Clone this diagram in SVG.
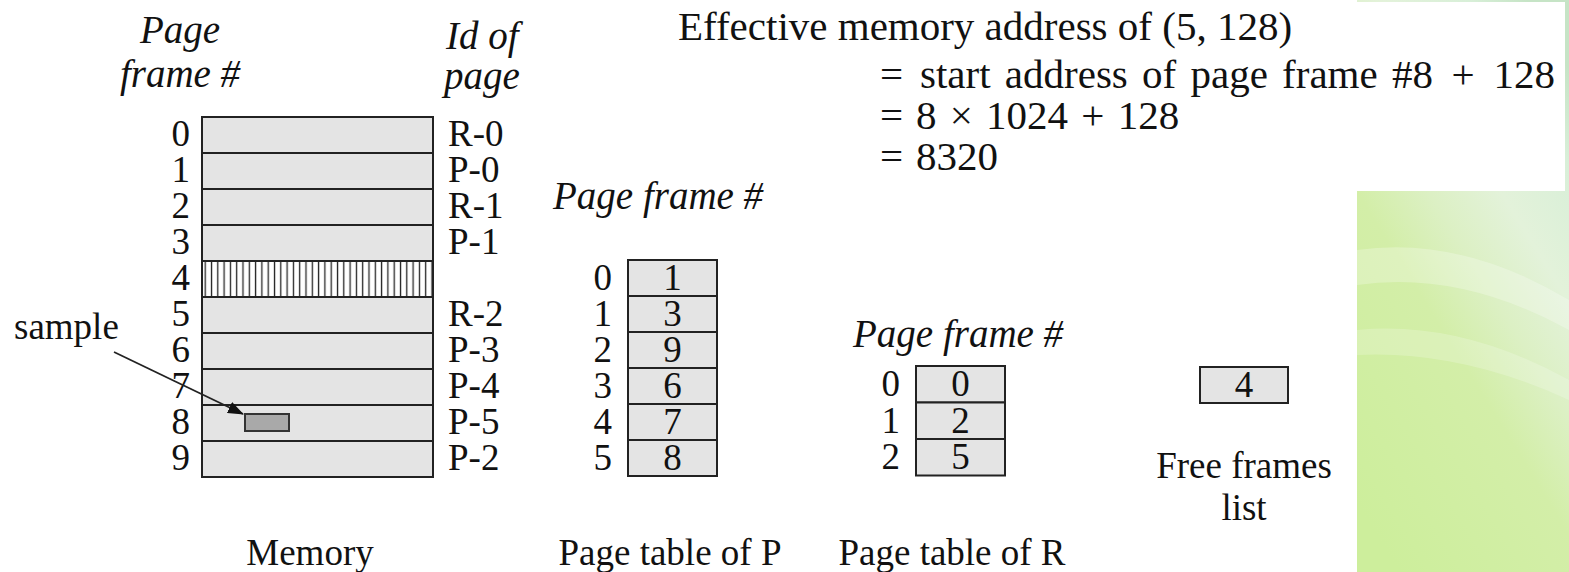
<svg xmlns="http://www.w3.org/2000/svg" width="1569" height="572" viewBox="0 0 1569 572">
  <style>
    .t { font-family: "Liberation Serif", "Times New Roman", serif; font-size: 37px; fill: #111; }
    .it { font-family: "Liberation Serif", "Times New Roman", serif; font-size: 39px; font-style: italic; fill: #111; }
    .f { font-family: "Liberation Serif", "Times New Roman", serif; font-size: 41px; fill: #111; }
    .mid { text-anchor: middle; }
    .end { text-anchor: end; }
    .cell { fill: #e4e4e4; stroke: #222; stroke-width: 2; }
    .conn { fill: none; stroke: #222; stroke-width: 1.8; }
  </style>
  <defs>
    <pattern id="hatch" patternUnits="userSpaceOnUse" x="202" y="0" width="6.3" height="40">
      <rect width="6.3" height="40" fill="#ffffff"/>
      <line x1="3.2" y1="0" x2="3.2" y2="40" stroke="#222" stroke-width="1.3"/>
    </pattern>
    <marker id="arr" markerWidth="16" markerHeight="12" refX="15" refY="6" orient="auto" markerUnits="userSpaceOnUse">
      <path d="M0,0 L16,6 L0,12 Z" fill="#111"/>
    </marker>
    <linearGradient id="green" x1="0.8" y1="0" x2="0.2" y2="1">
      <stop offset="0" stop-color="#c6e4c6"/>
      <stop offset="0.12" stop-color="#d8efd8"/>
      <stop offset="0.3" stop-color="#e3f2da"/>
      <stop offset="0.45" stop-color="#dcf0c4"/>
      <stop offset="0.6" stop-color="#d3eea8"/>
      <stop offset="1" stop-color="#cdee9c"/>
    </linearGradient>
  </defs>

  <!-- background -->
  <rect x="0" y="0" width="1569" height="572" fill="#ffffff"/>
  <rect x="1357" y="0" width="212" height="572" fill="url(#green)"/>
  <path d="M1357,250 Q1460,235 1569,300 L1569,330 Q1460,270 1357,285 Z" fill="#ffffff" opacity="0.25"/>
  <path d="M1357,330 Q1460,320 1569,380 L1569,400 Q1460,350 1357,355 Z" fill="#ffffff" opacity="0.2"/>
  <rect x="0" y="2" width="1565" height="189" fill="#ffffff"/>

  <!-- formula -->
  <g id="formula">
    <text class="f" x="678" y="40">Effective memory address of (5, 128)</text>
    <text class="f" x="880" y="88">=</text>
    <text class="f" x="920" y="88" style="word-spacing:4px">start address of page frame #8</text>
    <text class="f mid" x="1463" y="88">+</text>
    <text class="f end" x="1555" y="88">128</text>
    <text class="f" x="880" y="129">=</text>
    <text class="f" x="916" y="129" style="word-spacing:3px">8 × 1024 + 128</text>
    <text class="f" x="880" y="170">=</text>
    <text class="f" x="916" y="170">8320</text>
  </g>

  <!-- memory -->
  <g id="memory">
    <text class="it mid" x="180" y="43">Page</text>
    <text class="it mid" x="180" y="87">frame #</text>
    <text class="it" x="446" y="49">Id of</text>
    <text class="it" x="444" y="89">page</text>
    <rect class="cell" x="202" y="117" width="231" height="36"/>
    <rect class="cell" x="202" y="153" width="231" height="36"/>
    <rect class="cell" x="202" y="189" width="231" height="36"/>
    <rect class="cell" x="202" y="225" width="231" height="36"/>
    <rect x="202" y="261" width="231" height="36" fill="url(#hatch)" stroke="#222" stroke-width="2"/>
    <rect class="cell" x="202" y="297" width="231" height="36"/>
    <rect class="cell" x="202" y="333" width="231" height="36"/>
    <rect class="cell" x="202" y="369" width="231" height="36"/>
    <rect class="cell" x="202" y="405" width="231" height="36"/>
    <rect class="cell" x="202" y="441" width="231" height="36"/>
    <text class="t end" x="190" y="146">0</text>
    <text class="t end" x="190" y="182">1</text>
    <text class="t end" x="190" y="218">2</text>
    <text class="t end" x="190" y="254">3</text>
    <text class="t end" x="190" y="290">4</text>
    <text class="t end" x="190" y="326">5</text>
    <text class="t end" x="190" y="362">6</text>
    <text class="t end" x="190" y="398">7</text>
    <text class="t end" x="190" y="434">8</text>
    <text class="t end" x="190" y="470">9</text>
    <text class="t" x="448" y="146">R-0</text>
    <text class="t" x="448" y="182">P-0</text>
    <text class="t" x="448" y="218">R-1</text>
    <text class="t" x="448" y="254">P-1</text>
    <text class="t" x="448" y="326">R-2</text>
    <text class="t" x="448" y="362">P-3</text>
    <text class="t" x="448" y="398">P-4</text>
    <text class="t" x="448" y="434">P-5</text>
    <text class="t" x="448" y="470">P-2</text>
    <text class="t mid" x="310" y="565">Memory</text>
  </g>

  <g id="sample">
    <text class="t" x="14" y="339">sample</text>
    <rect x="245" y="414" width="44" height="17" fill="#a9a9a9" stroke="#333" stroke-width="2"/>
  </g>

  <!-- page table of P -->
  <g id="pageTableP">
    <text class="it" x="553" y="209">Page frame #</text>
    <rect class="cell" x="628" y="260" width="89" height="36"/>
    <rect class="cell" x="628" y="296" width="89" height="36"/>
    <rect class="cell" x="628" y="332" width="89" height="36"/>
    <rect class="cell" x="628" y="368" width="89" height="36"/>
    <rect class="cell" x="628" y="404" width="89" height="36"/>
    <rect class="cell" x="628" y="440" width="89" height="36"/>
    <text class="t end" x="612" y="290">0</text>
    <text class="t end" x="612" y="326">1</text>
    <text class="t end" x="612" y="362">2</text>
    <text class="t end" x="612" y="398">3</text>
    <text class="t end" x="612" y="434">4</text>
    <text class="t end" x="612" y="470">5</text>
    <text class="t mid" x="672.5" y="290">1</text>
    <text class="t mid" x="672.5" y="326">3</text>
    <text class="t mid" x="672.5" y="362">9</text>
    <text class="t mid" x="672.5" y="398">6</text>
    <text class="t mid" x="672.5" y="434">7</text>
    <text class="t mid" x="672.5" y="470">8</text>
    <text class="t mid" x="670" y="565">Page table of P</text>
  </g>

  <!-- page table of R -->
  <g id="pageTableR">
    <text class="it" x="853" y="347">Page frame #</text>
    <rect class="cell" x="916" y="366" width="89" height="36.5"/>
    <rect class="cell" x="916" y="402.5" width="89" height="36.5"/>
    <rect class="cell" x="916" y="439" width="89" height="36.5"/>
    <text class="t end" x="900" y="396">0</text>
    <text class="t end" x="900" y="433">1</text>
    <text class="t end" x="900" y="469">2</text>
    <text class="t mid" x="960.5" y="396">0</text>
    <text class="t mid" x="960.5" y="433">2</text>
    <text class="t mid" x="960.5" y="469">5</text>
    <text class="t mid" x="952" y="565">Page table of R</text>
  </g>

  <!-- free frames list -->
  <g id="freeList">
    <rect class="cell" x="1200" y="367" width="88" height="36"/>
    <text class="t mid" x="1244" y="397">4</text>
    <text class="t mid" x="1244" y="478">Free frames</text>
    <text class="t mid" x="1244" y="520">list</text>
  </g>

  <!-- connectors -->
  <g id="connectors">
    <line class="conn" x1="114" y1="352" x2="243" y2="414" marker-end="url(#arr)"/>
  </g>
</svg>
